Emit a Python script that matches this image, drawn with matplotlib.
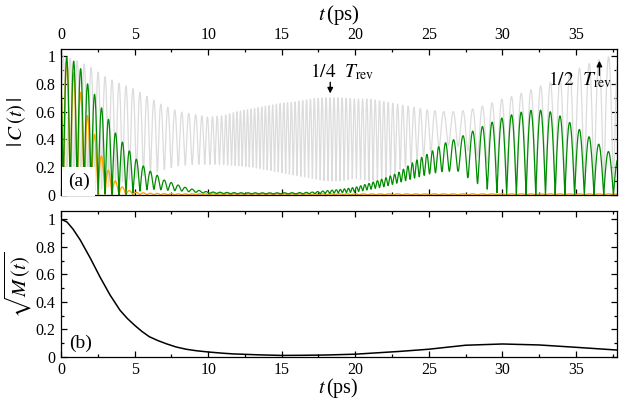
import numpy as np
import matplotlib
matplotlib.use('Agg')
import matplotlib.pyplot as plt
from matplotlib.ticker import MultipleLocator

plt.rcParams['font.family'] = 'serif'
plt.rcParams['font.serif'] = ['Liberation Serif', 'DejaVu Serif']
plt.rcParams['mathtext.fontset'] = 'stix'

# panel (a): upper / lower envelope of the fast oscillations
grey_t = [0, 1, 2, 3, 4, 5, 6, 7, 8, 9, 10, 11, 12, 13, 14, 15, 16, 17, 18, 19,
          20, 21, 22, 23, 24, 25, 26, 27, 28, 29, 30, 31, 32, 33, 34, 35, 36, 37, 38]
grey_hi = [1.0, 0.97, 0.92, 0.85, 0.80, 0.76, 0.70, 0.64, 0.60, 0.58, 0.56, 0.57, 0.60,
           0.62, 0.64, 0.66, 0.67, 0.69, 0.70, 0.70, 0.69, 0.69, 0.67, 0.65, 0.63, 0.61,
           0.60, 0.60, 0.62, 0.65, 0.69, 0.72, 0.76, 0.80, 0.84, 0.90, 0.95, 0.99, 1.0]
grey_lo = [0.0, 0.0, 0.02, 0.05, 0.09, 0.12, 0.15, 0.18, 0.21, 0.22, 0.22, 0.22, 0.21,
           0.20, 0.18, 0.16, 0.14, 0.12, 0.10, 0.10, 0.12, 0.10, 0.12, 0.18, 0.24, 0.30,
           0.36, 0.35, 0.30, 0.22, 0.15, 0.10, 0.06, 0.03, 0.01, 0.0, 0.0, 0.0, 0.0]

green_t = [0, 0.4, 0.9, 1.4, 1.8, 2.3, 2.7, 3.2, 3.6, 4.1, 4.5, 5.0, 5.5, 6.0, 6.5, 7.0,
           7.5, 8.0, 8.5, 9.0, 9.5, 10, 12, 14, 16, 17, 18, 19, 20, 21, 22, 23, 24, 25,
           26, 27, 28, 29, 30, 31, 32, 33, 34, 35, 36, 37, 38]
green_hi = [1.0, 0.99, 0.96, 0.90, 0.80, 0.72, 0.635, 0.55, 0.46, 0.39, 0.336, 0.27,
            0.216, 0.175, 0.144, 0.108, 0.089, 0.07, 0.053, 0.04, 0.03, 0.022, 0.016,
            0.015, 0.016, 0.02, 0.03, 0.04, 0.055, 0.085, 0.12, 0.165, 0.24, 0.30, 0.37,
            0.41, 0.46, 0.51, 0.555, 0.59, 0.61, 0.61, 0.565, 0.49, 0.41, 0.33, 0.25]
green_lo = [0.0, 0.0, 0.0, 0.0, 0.0, 0.0, 0.0, 0.0, 0.0, 0.0, 0.0, 0.02, 0.03, 0.04,
            0.04, 0.035, 0.032, 0.03, 0.025, 0.02, 0.015, 0.012, 0.008, 0.008, 0.008,
            0.009, 0.01, 0.015, 0.02, 0.04, 0.06, 0.09, 0.12, 0.15, 0.17, 0.17, 0.10,
            0.04, 0.0, 0.0, 0.0, 0.0, 0.0, 0.0, 0.0, 0.0, 0.0]

orange_t = [0, 0.5, 1.0, 1.5, 2.0, 2.3, 2.7, 3.15, 3.6, 4.05, 4.5, 5.0, 6.0, 8.0, 38]
orange_hi = [1.0, 0.95, 0.85, 0.68, 0.50, 0.43, 0.29, 0.19, 0.11, 0.065, 0.036, 0.02,
             0.012, 0.008, 0.008]
orange_lo = [0.0] * len(orange_t)

# oscillation period (ps) along t, and where each trace runs at twice the rate
period_t = [0, 12, 20, 27, 38]
period_val = [0.474, 0.474, 0.56, 0.66, 0.66]
grey_double_t = [0, 9, 12, 22, 26, 38]
grey_double_w = [0, 0, 1, 1, 0, 0]
green_double_t = [0, 16, 19, 24, 27, 38]
green_double_w = [0, 0, 1, 1, 0, 0]

# panel (b)
m_t = [0, 0.4, 0.8, 1.3, 2.0, 2.65, 3.33, 4.0, 4.5, 5.0, 5.5, 6.0, 6.6, 7.2, 7.8, 8.5,
       9.2, 10, 11, 11.7, 13.5, 15, 16.5, 18, 20, 21.5, 23, 25, 27.5, 30, 32.5, 35, 37.8]
m_val = [1.0, 0.98, 0.93, 0.85, 0.715, 0.58, 0.45, 0.34, 0.28, 0.23, 0.185, 0.147,
         0.118, 0.094, 0.073, 0.056, 0.045, 0.036, 0.027, 0.022, 0.015, 0.011, 0.012,
         0.014, 0.02, 0.03, 0.04, 0.056, 0.085, 0.094, 0.087, 0.07, 0.05]


def trace(t, phase, env_t, hi, lo):
    up = np.interp(t, env_t, hi)
    dn = np.interp(t, env_t, lo)
    a = (up - dn) / 2
    b = (up + dn) / 2
    return np.sqrt(a**2 + b**2 + 2 * a * b * np.cos(phase))


def extra_phase(t, freq, wt, wv, odd):
    # additional phase picked up while running at double rate; rescaled so the
    # trace ends in step with the base oscillation
    dt = t[1] - t[0]
    ex = 2 * np.pi * np.cumsum(freq * np.interp(t, wt, wv)) * dt
    if odd:
        k = 2 * np.round((ex[-1] / np.pi - 1) / 2) + 1
    else:
        k = 2 * np.round(ex[-1] / (2 * np.pi))
    return ex * k * np.pi / ex[-1]


t = np.linspace(0, 37.8, 9000)
dt = t[1] - t[0]
freq = 1 / np.interp(t, period_t, period_val)
base = 2 * np.pi * (np.cumsum(freq) * dt + 0.084 / 0.474)
green_phase = base + extra_phase(t, freq, green_double_t, green_double_w, False)
grey_phase = base + np.pi + extra_phase(t, freq, grey_double_t, grey_double_w, True)

fig = plt.figure(figsize=(6.23, 4.07), dpi=100)
ax1 = fig.add_axes([0.098, 0.521, 0.8925, 0.3587])
ax2 = fig.add_axes([0.098, 0.123, 0.8925, 0.3587])

ax1.plot(t, trace(t, grey_phase, grey_t, grey_hi, grey_lo), color='#dcdcdc', lw=0.9)
ax1.plot(t, trace(t, base, orange_t, orange_hi, orange_lo), color='#ffa500', lw=1.0)
ax1.plot(t, trace(t, green_phase, green_t, green_hi, green_lo), color='#008c00', lw=0.9)
ax2.plot(m_t, m_val, color='black', lw=1.1)

for ax in (ax1, ax2):
    ax.set_xlim(0, 37.8)
    ax.xaxis.set_major_locator(MultipleLocator(5))
    ax.xaxis.set_minor_locator(MultipleLocator(2.5))
    ax.set_yticks([0, 0.2, 0.4, 0.6, 0.8, 1.0])
    ax.set_yticklabels(['0', '0.2', '0.4', '0.6', '0.8', '1'])
    ax.yaxis.set_minor_locator(MultipleLocator(0.1))
    ax.tick_params(which='both', direction='in', top=True, right=True, labelsize=11.5, pad=4)
    ax.tick_params(which='major', length=4, width=0.9)
    ax.tick_params(which='minor', length=2.4, width=0.9)
    for s in ax.spines.values():
        s.set_linewidth(0.9)

ax1.set_ylim(0, 1.05)
ax2.set_ylim(0, 1.06)
ax1.tick_params(labeltop=True, labelbottom=False)

fig.text(0.5435, 0.963, r'$t\,$(ps)', ha='center', va='center', fontsize=15)
fig.text(0.5435, 0.046, r'$t\,$(ps)', ha='center', va='center', fontsize=14.5)
fig.text(0.027, 0.70, r'$|\,C\,(t)\,|$', ha='center', va='center', rotation=90, fontsize=15)
fig.text(0.030, 0.30, r'$\sqrt{M\,(t)}$', ha='center', va='center', rotation=90, fontsize=15)

ax1.text(16.9, 0.845, r'$1/4\ \ T_{\rm rev}$', fontsize=14, va='baseline')
ax1.annotate('', xy=(18.3, 0.71), xytext=(18.3, 0.83),
             arrowprops=dict(arrowstyle='-|>', color='black', lw=1.0, mutation_scale=8))
ax1.text(33.1, 0.79, r'$1/2\ \ T_{\rm rev}$', fontsize=14, va='baseline')
ax1.annotate('', xy=(36.6, 0.985), xytext=(36.6, 0.84),
             arrowprops=dict(arrowstyle='-|>', color='black', lw=1.0, mutation_scale=8))

ax1.text(0.45, 0.095, '(a)', fontsize=14, va='center', zorder=5,
         bbox=dict(boxstyle='square,pad=0.3', fc='white', ec='none'))
ax2.text(0.55, 0.10, '(b)', fontsize=14, va='center')

fig.savefig('out.png', dpi=100)
